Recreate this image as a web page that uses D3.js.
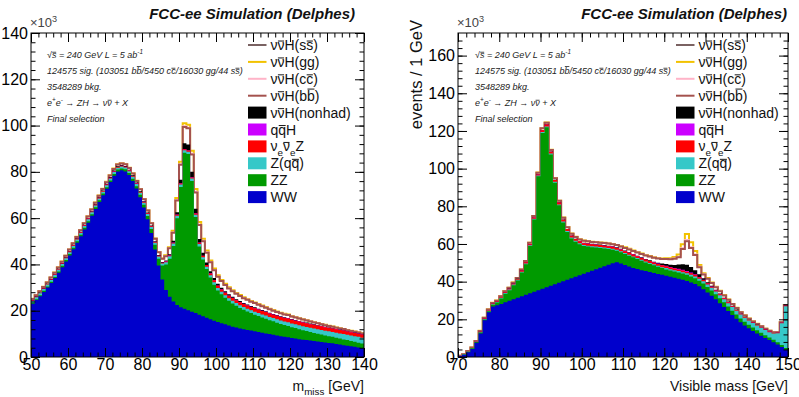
<!DOCTYPE html>
<html>
<head>
<meta charset="utf-8">
<script src="https://cdn.jsdelivr.net/npm/d3@7"></script>
<style>
body { margin: 0; background: #fff; }
svg { display: block; font-family: "Liberation Sans", Arial, sans-serif; }
</style>
</head>
<body>
<svg id="chart" width="799" height="397"></svg>
<script>
// all values in thousands of events per 1 GeV bin

// left panel: missing mass, bins start at 50 GeV
var wwL = [
  23.0, 24.6, 26.3, 28.1, 30.0, 32.0, 34.1, 36.4, 38.8, 41.3,
  43.9, 46.6, 49.4, 52.2, 55.1, 58.0, 61.0, 64.0, 67.0, 69.9,
  72.7, 75.6, 78.3, 80.2, 80.7, 80.2, 78.6, 76.0, 72.8, 69.0,
  64.6, 59.5, 53.6, 46.5, 39.5, 33.5, 29.0, 26.0, 24.0, 22.5,
  21.5, 20.8, 20.2, 19.6, 19.0, 18.3, 17.6, 17.0, 16.3, 15.7,
  15.1, 14.6, 14.1, 13.6, 13.1, 12.7, 12.3, 12.0, 11.7, 11.4,
  11.1, 10.8, 10.5, 10.2, 9.9, 9.6, 9.3, 9.0, 8.7, 8.5,
  8.2, 8.0, 7.7, 7.5, 7.3, 7.1, 6.9, 6.7, 6.5, 6.3,
  6.1, 5.9, 5.6, 5.4, 5.1, 4.9, 4.6, 4.4, 4.1, 3.8];
var zzL = [
  0.4, 0.4, 0.4, 0.5, 0.5, 0.5, 0.5, 0.5, 0.6, 0.6,
  0.6, 0.6, 0.6, 0.6, 0.7, 0.7, 0.7, 0.7, 0.7, 0.7,
  0.7, 0.7, 0.8, 0.8, 0.8, 0.9, 0.9, 1.0, 1.0, 1.1,
  1.2, 1.4, 1.7, 2.0, 3.0, 6.0, 11.0, 16.5, 24.0, 37.5,
  52.0, 67.5, 67.5, 56.5, 41.5, 29.5, 24.5, 21.0, 18.0, 15.5,
  13.6, 12.5, 11.5, 10.7, 10.0, 9.4, 8.9, 8.4, 8.0, 7.6,
  7.2, 6.9, 6.6, 6.3, 6.0, 5.8, 5.5, 5.3, 5.1, 4.9,
  4.7, 4.5, 4.3, 4.1, 3.9, 3.7, 3.5, 3.4, 3.2, 3.0,
  2.9, 2.8, 2.7, 2.6, 2.5, 2.4, 2.3, 2.2, 2.1, 2.0];
var zqqL = [
  0.8, 0.8, 0.8, 0.8, 0.8, 0.8, 0.8, 0.8, 0.8, 0.8,
  0.8, 0.8, 0.8, 0.8, 0.8, 0.8, 0.8, 0.8, 0.8, 0.8,
  0.8, 0.8, 0.8, 0.8, 0.8, 0.8, 0.8, 0.9, 0.9, 0.9,
  0.9, 0.9, 0.9, 0.9, 0.9, 0.9, 0.9, 1.0, 1.0, 1.0,
  1.0, 1.0, 1.0, 1.0, 1.0, 1.0, 1.0, 1.0, 1.0, 1.1,
  1.1, 1.1, 1.1, 1.1, 1.2, 1.2, 1.2, 1.2, 1.2, 1.2,
  1.3, 1.3, 1.3, 1.4, 1.4, 1.4, 1.5, 1.5, 1.5, 1.6,
  1.6, 1.6, 1.7, 1.7, 1.8, 1.8, 1.9, 1.9, 2.0, 2.0,
  2.1, 2.1, 2.2, 2.2, 2.3, 2.3, 2.4, 2.4, 2.5, 2.5];
var nnzL = [
  0.2, 0.2, 0.2, 0.2, 0.2, 0.2, 0.2, 0.2, 0.2, 0.2,
  0.3, 0.3, 0.3, 0.3, 0.3, 0.3, 0.3, 0.3, 0.3, 0.3,
  0.3, 0.3, 0.3, 0.3, 0.3, 0.3, 0.3, 0.3, 0.3, 0.3,
  0.3, 0.3, 0.3, 0.3, 0.3, 0.3, 0.4, 0.4, 0.4, 0.5,
  0.5, 0.5, 0.5, 0.5, 0.5, 0.6, 0.6, 0.7, 0.8, 0.9,
  1.0, 1.0, 1.1, 1.1, 1.2, 1.2, 1.3, 1.3, 1.4, 1.4,
  1.5, 1.5, 1.5, 1.5, 1.5, 1.5, 1.5, 1.5, 1.6, 1.6,
  1.6, 1.6, 1.6, 1.6, 1.6, 1.6, 1.6, 1.6, 1.6, 1.6,
  1.5, 1.5, 1.5, 1.5, 1.5, 1.4, 1.4, 1.4, 1.4, 1.4];
var qqhL = [
  0.0, 0.0, 0.0, 0.0, 0.0, 0.0, 0.0, 0.0, 0.0, 0.0,
  0.0, 0.0, 0.0, 0.0, 0.0, 0.0, 0.0, 0.0, 0.0, 0.0,
  0.05, 0.05, 0.05, 0.05, 0.05, 0.05, 0.05, 0.05, 0.05, 0.05,
  0.05, 0.05, 0.05, 0.05, 0.05, 0.05, 0.05, 0.05, 0.1, 0.1,
  0.1, 0.1, 0.1, 0.1, 0.1, 0.1, 0.1, 0.1, 0.1, 0.1,
  0.1, 0.1, 0.1, 0.1, 0.1, 0.1, 0.1, 0.1, 0.1, 0.1,
  0.1, 0.1, 0.1, 0.1, 0.1, 0.1, 0.1, 0.1, 0.1, 0.1,
  0.1, 0.1, 0.1, 0.1, 0.1, 0.05, 0.05, 0.05, 0.05, 0.05,
  0.05, 0.05, 0.05, 0.05, 0.05, 0.05, 0.05, 0.05, 0.05, 0.05];
var nhL = [
  0.2, 0.2, 0.2, 0.2, 0.2, 0.2, 0.2, 0.2, 0.2, 0.2,
  0.2, 0.2, 0.2, 0.2, 0.2, 0.2, 0.2, 0.2, 0.2, 0.2,
  0.3, 0.3, 0.3, 0.3, 0.3, 0.3, 0.3, 0.3, 0.3, 0.3,
  0.3, 0.3, 0.3, 0.3, 0.3, 0.3, 0.4, 0.5, 0.7, 1.0,
  1.5, 2.5, 2.5, 2.3, 2.0, 1.5, 1.2, 1.0, 0.9, 0.8,
  0.7, 0.6, 0.5, 0.5, 0.4, 0.4, 0.4, 0.3, 0.3, 0.3,
  0.3, 0.3, 0.3, 0.3, 0.2, 0.2, 0.2, 0.2, 0.2, 0.2,
  0.2, 0.2, 0.2, 0.2, 0.2, 0.2, 0.2, 0.1, 0.1, 0.1,
  0.1, 0.1, 0.1, 0.1, 0.1, 0.1, 0.1, 0.1, 0.1, 0.1];
var bbL = [
  0.5, 0.5, 0.5, 0.5, 0.5, 0.6, 0.6, 0.6, 0.6, 0.6,
  0.6, 0.6, 0.6, 0.7, 0.7, 0.7, 0.7, 0.7, 0.7, 0.7,
  0.7, 0.7, 0.7, 0.7, 0.7, 0.7, 0.7, 0.7, 0.7, 0.8,
  0.8, 0.8, 0.9, 1.0, 1.2, 1.4, 1.8, 2.5, 3.5, 5.0,
  6.5, 7.0, 7.0, 7.5, 7.0, 6.0, 5.0, 4.3, 3.8, 3.4,
  3.1, 2.9, 2.7, 2.5, 2.4, 2.3, 2.2, 2.1, 2.0, 1.9,
  1.8, 1.7, 1.6, 1.5, 1.5, 1.4, 1.3, 1.3, 1.2, 1.2,
  1.1, 1.1, 1.0, 1.0, 0.9, 0.9, 0.8, 0.8, 0.7, 0.7,
  0.6, 0.6, 0.5, 0.5, 0.5, 0.4, 0.4, 0.4, 0.3, 0.3];
var ccL = [
  0.0, 0.0, 0.0, 0.0, 0.0, 0.0, 0.0, 0.0, 0.0, 0.0,
  0.0, 0.0, 0.0, 0.0, 0.0, 0.0, 0.0, 0.0, 0.0, 0.0,
  0.05, 0.05, 0.05, 0.05, 0.05, 0.05, 0.05, 0.05, 0.05, 0.05,
  0.05, 0.05, 0.05, 0.05, 0.05, 0.05, 0.1, 0.1, 0.2, 0.3,
  0.3, 0.4, 0.4, 0.4, 0.4, 0.3, 0.3, 0.2, 0.2, 0.2,
  0.1, 0.1, 0.1, 0.1, 0.1, 0.1, 0.1, 0.1, 0.1, 0.1,
  0.1, 0.1, 0.1, 0.1, 0.1, 0.1, 0.05, 0.05, 0.05, 0.05,
  0.05, 0.05, 0.05, 0.05, 0.05, 0.05, 0.05, 0.05, 0.05, 0.05,
  0.0, 0.0, 0.0, 0.0, 0.0, 0.0, 0.0, 0.0, 0.0, 0.0];
var ggL = [
  0.1, 0.1, 0.1, 0.1, 0.1, 0.1, 0.1, 0.1, 0.1, 0.1,
  0.1, 0.1, 0.1, 0.1, 0.1, 0.1, 0.1, 0.1, 0.1, 0.1,
  0.1, 0.1, 0.1, 0.1, 0.1, 0.1, 0.1, 0.1, 0.1, 0.1,
  0.1, 0.1, 0.1, 0.1, 0.1, 0.1, 0.3, 0.4, 0.6, 0.8,
  1.0, 1.2, 1.2, 1.2, 1.1, 1.0, 0.8, 0.7, 0.6, 0.5,
  0.5, 0.4, 0.4, 0.4, 0.3, 0.3, 0.3, 0.3, 0.2, 0.2,
  0.2, 0.2, 0.2, 0.2, 0.2, 0.2, 0.2, 0.2, 0.2, 0.2,
  0.1, 0.1, 0.1, 0.1, 0.1, 0.1, 0.1, 0.1, 0.1, 0.1,
  0.1, 0.1, 0.1, 0.1, 0.1, 0.1, 0.1, 0.1, 0.1, 0.1];

// right panel: visible mass, bins start at 70 GeV
var wwR = [
  0.5, 1.2, 2.5, 4.2, 7.5, 12.5, 19.5, 23.8, 26.8, 27.5,
  28.2, 29.0, 29.8, 30.6, 31.4, 32.2, 33.0, 33.8, 34.6, 35.4,
  36.2, 37.0, 37.8, 38.6, 39.4, 40.2, 41.0, 41.8, 42.6, 43.4,
  44.2, 45.0, 45.8, 46.6, 47.4, 48.2, 49.0, 49.8, 50.3, 49.6,
  48.8, 48.0, 47.3, 46.7, 46.1, 45.6, 45.1, 44.6, 44.1, 43.6,
  43.1, 42.6, 42.1, 41.6, 41.0, 40.4, 39.6, 38.7, 37.5, 36.0,
  34.3, 32.5, 30.6, 28.6, 26.5, 24.4, 22.3, 20.3, 18.4, 16.7,
  15.2, 13.8, 12.5, 11.3, 10.1, 9.0, 7.8, 6.6, 5.3, 3.8];
var zzR = [
  0.0, 0.1, 0.3, 0.4, 0.4, 0.5, 0.4, 0.5, 0.9, 1.4,
  2.8, 4.6, 5.6, 7.5, 9.2, 12.7, 16.3, 25.1, 38.4, 60.5,
  82.7, 84.9, 69.7, 53.9, 41.1, 31.2, 25.4, 21.1, 18.6, 16.5,
  14.7, 13.6, 12.5, 11.5, 10.5, 9.4, 8.3, 7.2, 6.1, 6.0,
  5.9, 5.8, 5.6, 5.3, 5.0, 4.6, 4.3, 4.1, 3.8, 3.6,
  3.4, 3.3, 3.3, 3.3, 3.3, 3.3, 3.2, 3.1, 3.0, 3.0,
  2.9, 2.8, 2.7, 2.6, 2.5, 2.4, 2.3, 2.2, 2.1, 2.0,
  1.9, 1.8, 1.7, 1.6, 1.5, 1.4, 1.3, 1.2, 1.1, 1.0];
var zqqR = [
  0.1, 0.1, 0.1, 0.1, 0.2, 0.2, 0.3, 0.3, 0.3, 0.3,
  0.4, 0.4, 0.4, 0.4, 0.4, 0.4, 0.4, 0.4, 0.4, 0.4,
  0.5, 0.5, 0.5, 0.5, 0.5, 0.5, 0.5, 0.5, 0.5, 0.5,
  0.5, 0.5, 0.5, 0.5, 0.5, 0.5, 0.5, 0.5, 0.5, 0.5,
  0.5, 0.5, 0.5, 0.5, 0.5, 0.5, 0.5, 0.5, 0.5, 0.5,
  0.7, 0.7, 0.7, 0.7, 0.7, 0.7, 0.9, 1.0, 1.1, 1.2,
  1.3, 1.4, 1.5, 1.6, 1.7, 1.8, 1.9, 2.0, 2.1, 2.2,
  2.3, 2.4, 2.5, 2.6, 2.7, 2.8, 3.4, 4.8, 11.5, 22.2];
var nnzR = [
  0.0, 0.0, 0.1, 0.1, 0.1, 0.2, 0.2, 0.2, 0.3, 0.3,
  0.4, 0.4, 0.4, 0.4, 0.4, 0.6, 0.6, 0.6, 0.6, 0.6,
  1.0, 1.0, 1.0, 1.0, 1.0, 1.0, 1.0, 1.0, 1.0, 1.0,
  1.0, 1.0, 1.0, 1.0, 1.0, 1.0, 1.0, 1.0, 1.0, 1.0,
  1.0, 1.0, 1.0, 1.0, 1.0, 1.0, 1.0, 1.0, 1.0, 1.0,
  1.0, 0.9, 0.9, 0.9, 0.9, 0.9, 0.8, 0.8, 0.7, 0.7,
  0.6, 0.6, 0.5, 0.5, 0.5, 0.5, 0.4, 0.4, 0.4, 0.4,
  0.3, 0.3, 0.3, 0.3, 0.3, 0.3, 0.3, 0.3, 0.3, 0.3];
var qqhR = [
  0.0, 0.0, 0.0, 0.0, 0.0, 0.0, 0.0, 0.0, 0.0, 0.0,
  0.0, 0.0, 0.0, 0.0, 0.0, 0.0, 0.0, 0.0, 0.0, 0.0,
  0.0, 0.0, 0.0, 0.0, 0.0, 0.0, 0.0, 0.0, 0.0, 0.0,
  0.1, 0.1, 0.1, 0.1, 0.1, 0.1, 0.1, 0.1, 0.1, 0.1,
  0.1, 0.1, 0.1, 0.1, 0.1, 0.1, 0.1, 0.1, 0.2, 0.2,
  0.3, 0.3, 0.3, 0.4, 0.4, 0.4, 0.3, 0.3, 0.2, 0.1,
  0.1, 0.1, 0.1, 0.1, 0.1, 0.1, 0.1, 0.1, 0.0, 0.0,
  0.0, 0.0, 0.0, 0.0, 0.0, 0.0, 0.0, 0.0, 0.0, 0.0];
var nhR = [
  0.0, 0.0, 0.0, 0.0, 0.0, 0.0, 0.0, 0.0, 0.0, 0.0,
  0.1, 0.1, 0.1, 0.1, 0.1, 0.1, 0.1, 0.1, 0.1, 0.1,
  0.1, 0.1, 0.1, 0.1, 0.1, 0.1, 0.1, 0.1, 0.1, 0.1,
  0.2, 0.2, 0.2, 0.2, 0.2, 0.2, 0.2, 0.2, 0.2, 0.2,
  0.2, 0.2, 0.2, 0.2, 0.2, 0.2, 0.3, 0.3, 0.5, 0.7,
  0.9, 1.2, 1.6, 2.2, 3.0, 3.3, 3.0, 2.2, 1.4, 0.8,
  0.5, 0.4, 0.3, 0.3, 0.2, 0.2, 0.2, 0.2, 0.1, 0.1,
  0.1, 0.1, 0.1, 0.1, 0.1, 0.1, 0.0, 0.0, 0.0, 0.0];
var bbR = [
  0.0, 0.1, 0.2, 0.2, 0.3, 0.4, 0.4, 0.4, 0.4, 0.4,
  0.4, 0.4, 0.4, 0.4, 0.4, 0.4, 0.5, 0.6, 0.7, 0.8,
  0.9, 0.9, 0.8, 0.8, 0.8, 0.9, 0.9, 0.9, 0.9, 0.9,
  1.0, 1.0, 1.0, 1.0, 1.0, 1.1, 1.1, 1.1, 1.2, 1.3,
  1.4, 1.5, 1.6, 1.7, 1.8, 1.9, 2.0, 2.1, 2.2, 2.4,
  2.6, 2.9, 3.3, 3.8, 8.0, 12.5, 10.0, 8.0, 3.8, 2.0,
  1.8, 1.5, 1.3, 1.2, 1.1, 1.0, 0.9, 0.8, 0.7, 0.6,
  0.5, 0.5, 0.4, 0.4, 0.3, 0.3, 0.3, 0.3, 0.3, 0.3];
var ccR = [
  0.0, 0.0, 0.0, 0.0, 0.0, 0.0, 0.0, 0.0, 0.0, 0.0,
  0.0, 0.0, 0.0, 0.0, 0.0, 0.0, 0.0, 0.0, 0.0, 0.0,
  0.0, 0.0, 0.0, 0.0, 0.0, 0.0, 0.0, 0.0, 0.0, 0.0,
  0.0, 0.0, 0.0, 0.0, 0.0, 0.0, 0.0, 0.0, 0.0, 0.0,
  0.1, 0.1, 0.1, 0.1, 0.1, 0.1, 0.1, 0.1, 0.1, 0.1,
  0.1, 0.1, 0.2, 0.3, 0.5, 0.8, 0.6, 0.4, 0.3, 0.2,
  0.1, 0.1, 0.1, 0.1, 0.1, 0.0, 0.0, 0.0, 0.0, 0.0,
  0.0, 0.0, 0.0, 0.0, 0.0, 0.0, 0.0, 0.0, 0.0, 0.0];
var ggR = [
  0.0, 0.0, 0.0, 0.0, 0.0, 0.1, 0.1, 0.1, 0.1, 0.1,
  0.1, 0.1, 0.1, 0.1, 0.1, 0.1, 0.1, 0.1, 0.1, 0.1,
  0.1, 0.1, 0.1, 0.1, 0.1, 0.1, 0.1, 0.1, 0.1, 0.1,
  0.1, 0.1, 0.1, 0.1, 0.1, 0.1, 0.1, 0.1, 0.1, 0.1,
  0.2, 0.2, 0.2, 0.2, 0.2, 0.2, 0.2, 0.2, 0.2, 0.2,
  0.3, 0.4, 0.7, 1.2, 2.0, 3.0, 2.5, 1.8, 0.8, 0.5,
  0.3, 0.2, 0.2, 0.2, 0.2, 0.1, 0.1, 0.1, 0.1, 0.1,
  0.1, 0.1, 0.1, 0.0, 0.0, 0.0, 0.0, 0.0, 0.0, 0.0];

// axis ticks
var xTicksL = [50, 60, 70, 80, 90, 100, 110, 120, 130, 140];
var yTicksL = [0, 20, 40, 60, 80, 100, 120, 140];
var xTicksR = [70, 80, 90, 100, 110, 120, 130, 140, 150];
var yTicksR = [0, 20, 40, 60, 80, 100, 120, 140, 160];
var binWidth = 1;

// legend, top entry first; segments: [text, style]
var legendEntries = [
  {key: "ss", kind: "line", label: [["ν"], ["ν", "o"], ["H(s"], ["s", "o"], [")"]]},
  {key: "gg", kind: "line", label: [["ν"], ["ν", "o"], ["H(gg)"]]},
  {key: "cc", kind: "line", label: [["ν"], ["ν", "o"], ["H(c"], ["c", "o"], [")"]]},
  {key: "bb", kind: "line", label: [["ν"], ["ν", "o"], ["H(b"], ["b", "o"], [")"]]},
  {key: "nonhad", kind: "box", label: [["ν"], ["ν", "o"], ["H(nonhad)"]]},
  {key: "qqH", kind: "box", label: [["q"], ["q", "o"], ["H"]]},
  {key: "nnZ", kind: "box", label: [["ν"], ["e", "sub"], ["ν", "o"], ["e", "sub"], ["Z"]]},
  {key: "Zqq", kind: "box", label: [["Z(q"], ["q", "o"], [")"]]},
  {key: "ZZ", kind: "box", label: [["ZZ"]]},
  {key: "WW", kind: "box", label: [["WW"]]}
];

var infoLines = [
  [["√"], ["s", "o"], [" = 240 GeV  L = 5 ab"], ["-1", "sup"]],
  [["124575 sig. (103051 b"], ["b", "o"], ["/5450 c"], ["c", "o"], ["/16030 gg/44 s"], ["s", "o"], [")"]],
  [["3548289 bkg."]],
  [["e"], ["+", "sup"], ["e"], ["-", "sup"], [" → ZH → ν"], ["ν", "o"], [" + X"]],
  [["Final selection"]]
];

var colors = {
  WW: "#0000cc", ZZ: "#009a00", Zqq: "#36c8c8", nnZ: "#ff0000",
  qqH: "#cc00ff", nonhad: "#000000",
  bb: "#a4524e", cc: "#ffb4c8", gg: "#f2c200", ss: "#7a6262"
};
var fillKeys = ["WW", "ZZ", "Zqq", "nnZ", "qqH", "nonhad"];
var lineKeys = ["bb", "cc", "gg"];

var svg = d3.select("#chart");

// text made of segments; "o" segments get a drawn bar, sub/sup are shifted
function richText(sel, segs, size) {
  var shift = 0, pos = 0, bars = [];
  segs.forEach(function(s) {
    var t = sel.append("tspan").text(s[0]);
    var target = s[1] === "sub" ? size * 0.3 : (s[1] === "sup" ? -size * 0.4 : 0);
    if (target !== shift) { t.attr("dy", target - shift); shift = target; }
    if (s[1] === "sub" || s[1] === "sup") t.attr("font-size", size * 0.7);
    if (s[1] === "o") bars.push({start: pos, n: s[0].length, ch: s[0]});
    pos += s[0].length;
  });
  var node = sel.node();
  var parent = d3.select(node.parentNode);
  bars.forEach(function(b) {
    var p0 = node.getStartPositionOfChar(b.start);
    var p1 = node.getEndPositionOfChar(b.start + b.n - 1);
    var tall = /[bdhklt]/.test(b.ch);
    var yy = p0.y - size * (tall ? 0.83 : 0.64);
    parent.append("line")
      .attr("x1", p0.x + size * 0.03).attr("x2", p1.x - size * 0.03)
      .attr("y1", yy).attr("y2", yy)
      .attr("stroke", sel.attr("fill") || "#000")
      .attr("stroke-width", Math.max(0.8, size * 0.07));
  });
}

function drawPanel(p) {
  var x = d3.scaleLinear().domain(p.xDomain).range([p.left, p.right]);
  var y = d3.scaleLinear().domain(p.yDomain).range([p.bottom, p.top]);
  var g = svg.append("g");

  var keys = fillKeys.concat(lineKeys);
  var rows = p.series.WW.map(function(v, i) {
    var r = {lo: p.xDomain[0] + i * binWidth};
    keys.forEach(function(k) { r[k] = p.series[k][i]; });
    return r;
  });
  var layers = d3.stack().keys(keys)(rows);
  var byKey = {};
  layers.forEach(function(l) { byKey[l.key] = l; });

  function stepPts(layer) {
    var pts = [];
    layer.forEach(function(d) {
      pts.push({x: d.data.lo, v: d[1]});
      pts.push({x: d.data.lo + binWidth, v: d[1]});
    });
    return pts;
  }

  g.append("clipPath").attr("id", "clip" + p.id)
    .append("rect")
    .attr("x", p.left).attr("y", p.top)
    .attr("width", p.right - p.left).attr("height", p.bottom - p.top);

  var plot = g.append("g").attr("clip-path", "url(#clip" + p.id + ")");

  var line = d3.line().x(function(d) { return x(d.x); }).y(function(d) { return y(d.v); });
  var area = d3.area().x(function(d) { return x(d.x); })
    .y0(y(0)).y1(function(d) { return y(d.v); });

  // signal outlines first (top of stack first), fills painted over them
  lineKeys.slice().reverse().forEach(function(k) {
    plot.append("path")
      .attr("d", line(stepPts(byKey[k])))
      .attr("fill", "none")
      .attr("stroke", colors[k])
      .attr("stroke-width", k === "cc" ? 1.5 : 2);
  });
  fillKeys.slice().reverse().forEach(function(k) {
    plot.append("path")
      .attr("d", area(stepPts(byKey[k])))
      .attr("fill", colors[k]);
  });

  // axes, ROOT style ticks inside the frame
  var minorX = d3.range(p.xDomain[0], p.xDomain[1] + 0.01, 2);
  var minorY = d3.range(0, p.yDomain[1], 4);

  function styleAxis(a) {
    a.select(".domain").remove();
    a.selectAll("line").attr("stroke", "#000");
    a.attr("font-family", null).attr("font-size", 16);
    a.selectAll("text").attr("fill", "#000");
  }

  g.append("g").attr("transform", "translate(0," + p.bottom + ")")
    .call(d3.axisBottom(x).tickValues(p.xTicks).tickSize(-9).tickPadding(2).tickFormat(d3.format("d")))
    .call(styleAxis);
  g.append("g").attr("transform", "translate(0," + p.bottom + ")")
    .call(d3.axisBottom(x).tickValues(minorX).tickSize(-4.5).tickFormat(""))
    .call(styleAxis);
  g.append("g").attr("transform", "translate(0," + p.top + ")")
    .call(d3.axisTop(x).tickValues(p.xTicks).tickSize(-9).tickFormat(""))
    .call(styleAxis);
  g.append("g").attr("transform", "translate(0," + p.top + ")")
    .call(d3.axisTop(x).tickValues(minorX).tickSize(-4.5).tickFormat(""))
    .call(styleAxis);
  g.append("g").attr("transform", "translate(" + p.left + ",0)")
    .call(d3.axisLeft(y).tickValues(p.yTicks).tickSize(-9).tickPadding(3).tickFormat(d3.format("d")))
    .call(styleAxis);
  g.append("g").attr("transform", "translate(" + p.left + ",0)")
    .call(d3.axisLeft(y).tickValues(minorY).tickSize(-4.5).tickFormat(""))
    .call(styleAxis);
  g.append("g").attr("transform", "translate(" + p.right + ",0)")
    .call(d3.axisRight(y).tickValues(p.yTicks).tickSize(-9).tickFormat(""))
    .call(styleAxis);
  g.append("g").attr("transform", "translate(" + p.right + ",0)")
    .call(d3.axisRight(y).tickValues(minorY).tickSize(-4.5).tickFormat(""))
    .call(styleAxis);

  g.append("rect")
    .attr("x", p.left).attr("y", p.top)
    .attr("width", p.right - p.left).attr("height", p.bottom - p.top)
    .attr("fill", "none").attr("stroke", "#000").attr("stroke-width", 1);

  // exponent label
  var ex = g.append("text").attr("x", p.left - 1).attr("y", 27)
    .attr("font-size", 13).attr("fill", "#444");
  richText(ex, [["×10"], ["3", "sup"]], 13);

  // title
  g.append("text").attr("x", p.titleRight).attr("y", 19)
    .attr("text-anchor", "end")
    .attr("font-size", 15).attr("font-weight", "bold").attr("font-style", "italic")
    .attr("fill", "#111")
    .text("FCC-ee Simulation (Delphes)");

  // x title
  var xt = g.append("text").attr("x", p.right).attr("y", 391)
    .attr("text-anchor", "end").attr("font-size", 14).attr("fill", "#111");
  richText(xt, p.xTitle, 14);

  // info block
  infoLines.forEach(function(segs, i) {
    var t = g.append("text").attr("x", p.infoX).attr("y", 58 + i * 16)
      .attr("font-size", 9).attr("font-style", "italic").attr("fill", "#222");
    richText(t, segs, 9);
  });

  // legend
  legendEntries.forEach(function(e, i) {
    var cy = 45 + i * 16.9;
    if (e.kind === "box") {
      g.append("rect").attr("x", p.legendX).attr("y", cy - 6)
        .attr("width", 18.5).attr("height", 12).attr("fill", colors[e.key]);
    } else {
      g.append("line").attr("x1", p.legendX).attr("x2", p.legendX + 18.5)
        .attr("y1", cy).attr("y2", cy)
        .attr("stroke", colors[e.key]).attr("stroke-width", 2);
    }
    var t = g.append("text").attr("x", p.legendX + 22.5).attr("y", cy + 5)
      .attr("font-size", 14).attr("fill", "#111");
    richText(t, e.label, 14);
  });
}

drawPanel({
  id: "L", left: 31, right: 364, top: 33, bottom: 357,
  xDomain: [50, 140], yDomain: [0, 140],
  xTicks: xTicksL, yTicks: yTicksL,
  series: {WW: wwL, ZZ: zzL, Zqq: zqqL, nnZ: nnzL, qqH: qqhL, nonhad: nhL, bb: bbL, cc: ccL, gg: ggL},
  titleRight: 355, infoX: 47, legendX: 248,
  xTitle: [["m"], ["miss", "sub"], [" [GeV]"]]
});

drawPanel({
  id: "R", left: 458, right: 788, top: 33, bottom: 357,
  xDomain: [70, 150], yDomain: [0, 172],
  xTicks: xTicksR, yTicks: yTicksR,
  series: {WW: wwR, ZZ: zzR, Zqq: zqqR, nnZ: nnzR, qqH: qqhR, nonhad: nhR, bb: bbR, cc: ccR, gg: ggR},
  titleRight: 787, infoX: 475, legendX: 676,
  xTitle: [["Visible mass [GeV]"]]
});

// y title only on the right panel
svg.append("text")
  .attr("transform", "translate(422,20) rotate(-90)")
  .attr("text-anchor", "end")
  .attr("font-size", 16.5).attr("fill", "#111")
  .text("events / 1 GeV");
</script>
</body>
</html>
